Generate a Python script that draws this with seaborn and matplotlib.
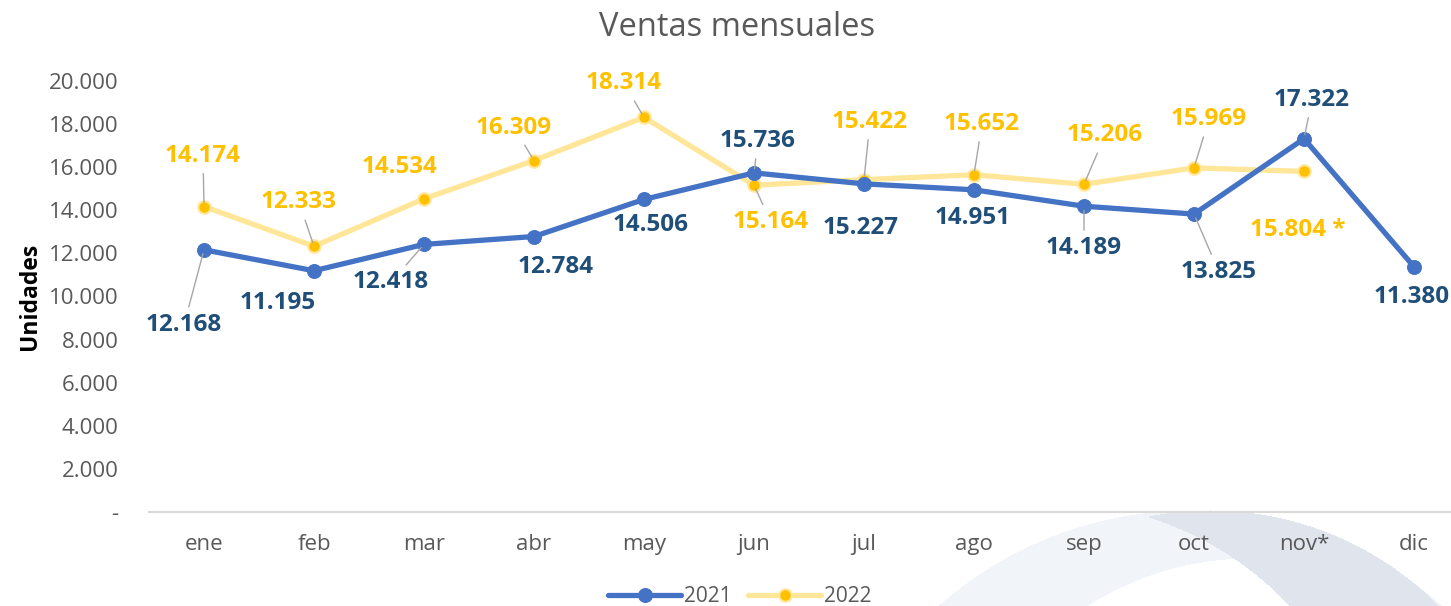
import matplotlib
matplotlib.use('Agg')
import matplotlib.pyplot as plt
import matplotlib.ticker as mticker
import seaborn as sns
import pandas as pd
import numpy as np

months = ['ene', 'feb', 'mar', 'abr', 'may', 'jun', 'jul', 'ago', 'sep', 'oct', 'nov*', 'dic']
ventas_2021 = [12168, 11195, 12418, 12784, 14506, 15736, 15227, 14951, 14189, 13825, 17322, 11380]
ventas_2022 = [14174, 12333, 14534, 16309, 18314, 15164, 15422, 15652, 15206, 15969, 15804]
labels_2022 = ['14.174', '12.333', '14.534', '16.309', '18.314', '15.164', '15.422',
               '15.652', '15.206', '15.969', '15.804 *']

# label offsets in pixels (dx, dy), dy up; and whether a leader line is drawn
off_2021 = [(-20, -75), (-36, -32), (-33, -38), (22, -30), (7, -26), (4, 32),
            (-3, -44), (-1, -28), (0, -42), (25, -58), (8, 39), (-2, -30)]
off_2022 = [(-1, 51), (-15, 44), (-25, 32), (-20, 33), (-20, 34), (17, -37),
            (6, 58), (8, 51), (21, 49), (15, 49), (-6, -59)]
lead_2021 = [1, 0, 1, 0, 0, 1, 0, 0, 1, 1, 1, 0]
lead_2022 = [1, 1, 0, 1, 1, 1, 1, 1, 1, 1, 0]

BLUE = '#4472C4'
DARK_BLUE = '#1F4E79'
GOLD = '#FFC000'
LIGHT_GOLD = '#FFE699'
GRAY = '#595959'
W, H = 1451, 606

sns.set_theme(style='white')
plt.rcParams['font.family'] = ['Open Sans', 'DejaVu Sans']

fig = plt.figure(figsize=(W / 100, H / 100), dpi=100)

# background watermark swoosh (image pixel coords)
yy, xx = np.mgrid[0:H, 0:W]
def inside(cx, cy, r):
    return (xx - cx) ** 2 + (yy - cy) ** 2 <= r ** 2
light = inside(1190, 890, 380) & ~inside(1250, 860, 302)
dark = inside(1210, 831, 321) & ~inside(1050, 830, 328)
img = np.zeros((H, W, 4))
img[light] = [0.949, 0.957, 0.973, 1]
img[dark] = [0.875, 0.898, 0.933, 1]
fig.figimage(img, 0, 0, origin='upper', zorder=-10)

ax = fig.add_axes([149 / W, (H - 512) / H, 1 - 149 / W, (512 - 81) / H])
ax.set_facecolor('none')

df21 = pd.DataFrame({'x': np.arange(len(ventas_2021)), 'v': ventas_2021})
df22 = pd.DataFrame({'x': np.arange(len(ventas_2022)), 'v': ventas_2022})

sns.lineplot(data=df22, x='x', y='v', ax=ax, color=LIGHT_GOLD, linewidth=3.8,
             marker='o', markersize=9, markerfacecolor=GOLD, markeredgecolor=LIGHT_GOLD,
             markeredgewidth=1.5, label='2022', zorder=3)
sns.lineplot(data=df21, x='x', y='v', ax=ax, color=BLUE, linewidth=3.8,
             marker='o', markersize=10, markerfacecolor=BLUE, markeredgecolor=BLUE,
             label='2021', zorder=4)

def put_labels(vals, texts, offs, leads, color):
    for i, v in enumerate(vals):
        arrow = dict(arrowstyle='-', color='#A6A6A6', lw=1.0, shrinkA=2, shrinkB=3) if leads[i] else None
        ax.annotate(texts[i], (i, v), xytext=offs[i], textcoords='offset pixels',
                    ha='center', va='center', fontsize=17.5, fontweight='bold', color=color,
                    arrowprops=arrow, zorder=6, annotation_clip=False)

put_labels(ventas_2021, [f'{v:,}'.replace(',', '.') for v in ventas_2021], off_2021, lead_2021, DARK_BLUE)
put_labels(ventas_2022, labels_2022, off_2022, lead_2022, GOLD)

ax.set_xlim(-0.5, (W - 204) / 110)
ax.set_ylim(0, 20000)
ax.set_xticks(np.arange(len(months)))
ax.set_xticklabels(months)
ax.set_yticks(np.arange(0, 20001, 2000))
ax.yaxis.set_major_formatter(mticker.FuncFormatter(
    lambda v, p: '-' if v == 0 else f'{v:,.0f}'.replace(',', '.')))
ax.tick_params(axis='y', length=0, pad=22, labelsize=16, labelcolor=GRAY)
ax.tick_params(axis='x', length=0, pad=16, labelsize=16, labelcolor=GRAY)
ax.set_xlabel('')
ax.set_ylabel('Unidades', fontsize=16.5, fontweight='bold', color='black', labelpad=5)

sns.despine(ax=ax, left=True, top=True, right=True)
ax.spines['bottom'].set_color('#D9D9D9')
ax.spines['bottom'].set_linewidth(1.5)
ax.grid(False)

fig.suptitle('Ventas mensuales', x=737 / W, y=(H - 28) / H, va='center',
             fontsize=23.5, color=GRAY)

ax.get_legend().remove()
h, l = ax.get_legend_handles_labels()
order = [l.index('2021'), l.index('2022')]
fig.legend([h[k] for k in order], [l[k] for k in order], loc='center',
           bbox_to_anchor=(740 / W, (H - 597) / H), ncol=2, frameon=False,
           fontsize=15, labelcolor=GRAY, handlelength=3.5, columnspacing=0.8,
           handletextpad=0.15)

fig.savefig('out.png', dpi=100)
